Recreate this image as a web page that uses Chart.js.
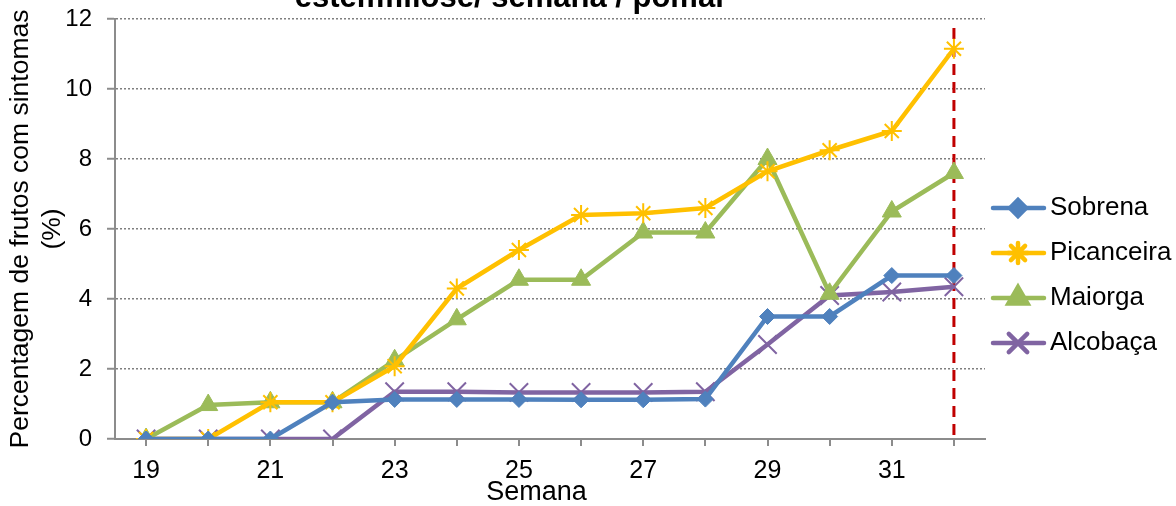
<!DOCTYPE html>
<html>
<head>
<meta charset="utf-8">
<script src="https://cdn.jsdelivr.net/npm/chart.js"></script>
<style>
  html, body { margin: 0; padding: 0; background: #fff; }
  #box { width: 1176px; height: 506px; overflow: hidden; }
</style>
</head>
<body>
<div id="box"><canvas id="myChart" width="1176" height="506"></canvas></div>
<script>
// semanas (eixo x)
const weeks = ['19', '20', '21', '22', '23', '24', '25', '26', '27', '28', '29', '30', '31', '32'];
// % de frutos com sintomas por pomar
const sobrena    = [0, 0, 0, 1.05, 1.13, 1.13, 1.13, 1.12, 1.12, 1.14, 3.5, 3.5, 4.67, 4.67];
const picanceira = [0, 0, 1.05, 1.05, 2.08, 4.3, 5.4, 6.4, 6.45, 6.6, 7.65, 8.25, 8.8, 11.15];
const maiorga    = [0, 0.97, 1.05, 1.05, 2.25, 3.42, 4.55, 4.55, 5.9, 5.9, 8.0, 4.15, 6.5, 7.6];
const alcobaca   = [0, 0, 0, 0, 1.35, 1.35, 1.33, 1.33, 1.33, 1.35, 2.7, 4.1, 4.2, 4.35];
const yTicks = [0, 2, 4, 6, 8, 10, 12];
const markWeek = '32';

const FONT = "'Liberation Sans', Arial, sans-serif";

(() => {
    'use strict'

    // linha vertical tracejada na semana marcada
    const markLine = {
        id: 'markLine',
        beforeDatasetsDraw(chart) {
            const ctx = chart.ctx
            const x = chart.scales.x.getPixelForValue(weeks.indexOf(markWeek))
            const area = chart.chartArea
            ctx.save()
            ctx.strokeStyle = '#C00000'
            ctx.lineWidth = 3
            ctx.setLineDash([11, 7])
            ctx.beginPath()
            ctx.moveTo(x, area.top + 9)
            ctx.lineTo(x, area.bottom)
            ctx.stroke()
            ctx.restore()
        }
    }

    // titulo (cortado no topo) e legenda a direita
    const extras = {
        id: 'extras',
        afterDraw(chart) {
            const ctx = chart.ctx
            ctx.save()
            ctx.fillStyle = '#000'
            ctx.font = 'bold 31px ' + FONT
            ctx.textAlign = 'center'
            ctx.textBaseline = 'alphabetic'
            ctx.fillText('estemfiliose/ semana / pomar', 511, 7)

            chart.data.datasets.forEach((ds, i) => {
                const y = 208 + i * 45
                ctx.strokeStyle = ds.borderColor
                ctx.lineWidth = 4.5
                ctx.lineCap = 'round'
                ctx.setLineDash([])
                ctx.beginPath()
                ctx.moveTo(993, y)
                ctx.lineTo(1044, y)
                ctx.stroke()
                ctx.fillStyle = ds.pointBackgroundColor
                ctx.strokeStyle = ds.pointBorderColor
                Chart.helpers.drawPoint(ctx, {
                    pointStyle: ds.pointStyle,
                    radius: ds.pointRadius,
                    borderWidth: ds.pointBorderWidth,
                    rotation: 0
                }, 1018, y)
                ctx.fillStyle = '#000'
                ctx.font = '26px ' + FONT
                ctx.textAlign = 'left'
                ctx.textBaseline = 'middle'
                ctx.fillText(ds.label, 1050, y)
            })
            ctx.restore()
        }
    }

    function series(label, data, color, style, radius, bw) {
        return {
            label: label,
            data: data,
            borderColor: color,
            backgroundColor: color,
            borderWidth: 4.5,
            lineTension: 0,
            pointStyle: style,
            pointRadius: radius,
            pointHoverRadius: radius,
            pointBorderWidth: bw,
            pointBackgroundColor: color,
            pointBorderColor: color
        }
    }

    const ctx = document.getElementById('myChart')
    // eslint-disable-next-line no-unused-vars
    const myChart = new Chart(ctx, {
        type: 'line',
        data: {
            labels: weeks,
            datasets: [
                series('Sobrena', sobrena, '#4F81BD', 'rectRot', 8, 1),
                series('Picanceira', picanceira, '#FFC000', 'star', 10, 2),
                series('Maiorga', maiorga, '#9BBB59', 'triangle', 11, 1),
                series('Alcobaça', alcobaca, '#8064A2', 'crossRot', 13, 2)
            ]
        },
        options: {
            responsive: false,
            animation: false,
            devicePixelRatio: 1,
            layout: {
                padding: { top: 19, right: 191, left: 0, bottom: 0 }
            },
            plugins: {
                legend: { display: false },
                title: { display: false },
                tooltip: { enabled: false }
            },
            scales: {
                x: {
                    offset: true,
                    afterFit(scale) {
                        scale.height = 67
                        scale.paddingLeft = 0
                        scale.paddingRight = 0
                    },
                    grid: {
                        offset: false,
                        drawOnChartArea: false,
                        drawTicks: true,
                        tickLength: 7,
                        color: '#8C8C8C',
                        lineWidth: 2
                    },
                    border: { color: '#8C8C8C', width: 2 },
                    ticks: {
                        autoSkip: false,
                        maxRotation: 0,
                        padding: 10,
                        color: '#000',
                        font: { family: FONT, size: 25 },
                        callback(value, index) {
                            const w = weeks[index]
                            return Number(w) % 2 === 1 ? w : ''
                        }
                    },
                    title: {
                        display: true,
                        text: 'Semana\u2003',
                        color: '#000',
                        font: { family: FONT, size: 27, lineHeight: 1.0 },
                        padding: { top: 0, bottom: 0 }
                    }
                },
                y: {
                    min: 0,
                    max: 12,
                    afterFit(scale) {
                        scale.width = 115
                        scale.paddingTop = 0
                        scale.paddingBottom = 0
                    },
                    afterBuildTicks(scale) {
                        scale.ticks = yTicks.map(v => ({ value: v }))
                    },
                    grid: {
                        color: '#7F7F7F',
                        lineWidth: 1.5,
                        tickBorderDash: [],
                        tickLength: 8,
                        tickWidth: 2,
                        tickColor: '#8C8C8C'
                    },
                    border: { color: '#8C8C8C', width: 2, dash: [2, 2] },
                    ticks: {
                        padding: 15,
                        color: '#000',
                        font: { family: FONT, size: 24 }
                    },
                    title: {
                        display: true,
                        text: ['Percentagem de frutos com sintomas', '(%)'],
                        color: '#000',
                        font: { family: FONT, size: 26.5, lineHeight: 1.2 },
                        padding: { top: 5, bottom: 0 }
                    }
                }
            }
        },
        plugins: [markLine, extras]
    })
})()
</script>
</body>
</html>
